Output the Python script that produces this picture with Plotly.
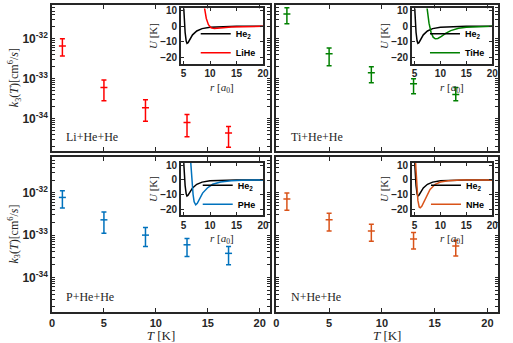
import plotly.graph_objects as go

# temperatures (K)
T = [1, 5, 9, 13, 17]

# k3 rates (cm^6/s): centre, upper end and lower end of the error bars
li_k3 = [6.6e-33, 6.0e-34, 1.86e-34, 7.9e-35, 4.3e-35]
li_hi = [1.0e-32, 9.3e-34, 2.95e-34, 1.26e-34, 6.3e-35]
li_lo = [3.7e-33, 2.8e-34, 8.5e-35, 3.5e-35, 1.9e-35]

ti_k3 = [4.2e-32, 4.2e-33, 1.41e-33, 7.4e-34, 4.0e-34]
ti_hi = [6.0e-32, 5.9e-33, 2.0e-33, 1.0e-33, 6.0e-34]
ti_lo = [2.4e-32, 2.1e-33, 7.9e-34, 4.2e-34, 2.8e-34]

p_k3 = [7.8e-33, 2.3e-33, 1.0e-33, 5.9e-34, 3.7e-34]
p_hi = [1.12e-32, 3.55e-33, 1.51e-33, 8.3e-34, 5.4e-34]
p_lo = [4.4e-33, 1.1e-33, 5.4e-34, 3.1e-34, 2.0e-34]

n_k3 = [7.2e-33, 2.3e-33, 1.26e-33, 8.1e-34, 5.5e-34]
n_hi = [1.0e-32, 3.3e-33, 1.82e-33, 1.15e-33, 7.6e-34]
n_lo = [3.9e-33, 1.26e-33, 7.2e-34, 4.7e-34, 3.2e-34]

# potential curves U(r) in K, r in bohr
he2_r = [4.9, 5.0, 5.1, 5.3, 5.5, 5.65, 5.85, 6.2, 6.7, 7.5, 8.5, 10, 12, 15, 20]
he2_u = [20, 12, 5, -4, -9.5, -11, -10.5, -8, -5.5, -3, -1.5, -0.6, -0.2, 0, 0]

lihe_r = [8.8, 9.0, 9.3, 9.7, 10.2, 10.8, 11.5, 12.5, 14, 16, 20]
lihe_u = [15, 10, 5, 1, -1, -1.5, -1.4, -1, -0.5, -0.2, 0]

tihe_r = [7.3, 7.5, 7.8, 8.2, 8.6, 9.0, 9.5, 10.2, 11, 12, 13.5, 15, 17, 20]
tihe_u = [15, 8, 2, -4, -7, -8, -7.8, -6.5, -4.5, -2.8, -1.3, -0.6, -0.2, 0]

phe_r = [6.3, 6.45, 6.6, 6.8, 7.0, 7.3, 7.6, 8.0, 8.6, 9.5, 10.5, 12, 14, 16, 20]
phe_u = [15, 5, -3, -10, -15, -17, -16, -13, -9, -5.5, -3, -1.4, -0.5, -0.2, 0]

nhe_r = [5.15, 5.3, 5.45, 5.65, 5.9, 6.1, 6.4, 6.8, 7.3, 8.0, 9, 10, 11.5, 14, 20]
nhe_u = [15, 5, -5, -14, -18.5, -19, -18, -15, -11, -6.5, -3, -1.4, -0.5, -0.1, 0]

panels = [
    ("Li+He+He", "LiHe", "#FF0000", li_k3, li_hi, li_lo, lihe_r, lihe_u),
    ("Ti+He+He", "TiHe", "#008000", ti_k3, ti_hi, ti_lo, tihe_r, tihe_u),
    ("P+He+He", "PHe", "#0072BD", p_k3, p_hi, p_lo, phe_r, phe_u),
    ("N+He+He", "NHe", "#D95319", n_k3, n_hi, n_lo, nhe_r, nhe_u),
]

# log-axis ticks 1..9 in every decade, labelled only at the decades
decades = [-35, -34, -33, -32]
y_ticks = [d * 10.0 ** e for e in decades for d in range(1, 10)]
y_text = [("10<sup>%d</sup>" % e if d == 1 and e > -35 else "") for e in decades for d in range(1, 10)]

AX = "#262626"
SANS = "Liberation Sans"
SERIF = "Liberation Serif"

main_x = [[0, 0.489], [0.503, 1.0], [0, 0.489], [0.503, 1.0]]
main_y = [[0.524, 1.0], [0.524, 1.0], [0, 0.505], [0, 0.505]]
ins_x = [[0.289, 0.473], [0.807, 0.987], [0.289, 0.473], [0.807, 0.987]]
ins_y = [[0.809, 0.989], [0.809, 0.989], [0.316, 0.485], [0.316, 0.485]]

fig = go.Figure()
layout = {}

for i, (label, name, col, k3, hi, lo, r, u) in enumerate(panels):
    n = i + 1
    sx = "" if n == 1 else str(n)
    m = n + 4
    lg = "legend" if n == 1 else "legend%d" % n

    fig.add_trace(go.Scatter(
        x=T, y=k3, mode="markers", showlegend=False,
        xaxis="x" + sx, yaxis="y" + sx,
        marker=dict(symbol="line-ew-open", size=5, color=col, line=dict(color=col, width=1.5)),
        error_y=dict(type="data", symmetric=False,
                     array=[h - c for h, c in zip(hi, k3)],
                     arrayminus=[c - l for c, l in zip(k3, lo)],
                     color=col, thickness=1.5, width=2.5),
    ))

    fig.add_trace(go.Scatter(x=he2_r, y=he2_u, mode="lines", name="He<sub>2</sub>",
                             line=dict(color="black", width=1.5),
                             xaxis="x%d" % m, yaxis="y%d" % m, legend=lg))
    fig.add_trace(go.Scatter(x=r, y=u, mode="lines", name=name,
                             line=dict(color=col, width=1.5),
                             xaxis="x%d" % m, yaxis="y%d" % m, legend=lg))

    bottom = n > 2
    left = n % 2 == 1
    layout["xaxis" + sx] = dict(
        domain=main_x[i], anchor="y" + sx, range=[0, 21], automargin=False,
        tickvals=[0, 5, 10, 15, 20], ticks="inside", ticklen=4,
        showline=True, mirror="ticks", linecolor=AX, linewidth=1.5, tickcolor=AX,
        showgrid=False, zeroline=False, showticklabels=bottom,
        tickfont=dict(family=SANS, size=11, color=AX, weight="bold"),
        title=dict(text="<i>T</i> [K]" if bottom else "", standoff=0,
                   font=dict(family=SERIF, size=13, color=AX)),
    )
    layout["yaxis" + sx] = dict(
        domain=main_y[i], anchor="x" + sx, type="log", range=[-34.82, -31.15],
        automargin=False,
        tickvals=y_ticks, ticktext=y_text, ticks="inside", ticklen=3, tickwidth=1,
        showline=True, mirror="ticks", linecolor=AX, linewidth=1.5, tickcolor=AX,
        showgrid=False, zeroline=False, showticklabels=left,
        tickfont=dict(family=SANS, size=12, color=AX, weight="bold"),
    )
    layout["xaxis%d" % m] = dict(
        domain=ins_x[i], anchor="y%d" % m, range=[4.5, 20], automargin=False,
        tickvals=[5, 10, 15, 20], ticks="inside", ticklen=3,
        showline=True, mirror="ticks", linecolor=AX, linewidth=1.5, tickcolor=AX,
        showgrid=False, zeroline=False,
        tickfont=dict(family=SANS, size=10, color=AX, weight="bold"),
    )
    layout["yaxis%d" % m] = dict(
        domain=ins_y[i], anchor="x%d" % m, range=[-24, 11.5], automargin=False,
        tickvals=[-20, -10, 0, 10], ticks="inside", ticklen=3,
        showline=True, mirror="ticks", linecolor=AX, linewidth=1.5, tickcolor=AX,
        showgrid=False, zeroline=False,
        tickfont=dict(family=SANS, size=10, color=AX, weight="bold"),
        title=dict(text="<i>U</i> [K]", standoff=0,
                   font=dict(family=SERIF, size=11, color=AX)),
    )
    layout[lg] = dict(
        x=ins_x[i][1] - 0.005, y=ins_y[i][0] - 0.012, xanchor="right", yanchor="bottom",
        bgcolor="rgba(0,0,0,0)", borderwidth=0, itemwidth=30, tracegroupgap=0,
        font=dict(family=SANS, size=9, color="black", weight="bold"),
    )

    # panel label
    fig.add_annotation(text=label, x=1.2, y=-34.47, xref="x" + sx, yref="y" + sx,
                       xanchor="left", yanchor="middle", showarrow=False,
                       font=dict(family=SERIF, size=12, color=AX))
    # inset x title, tucked close under the tick labels
    fig.add_annotation(text="<i>r</i> [<i>a</i><sub>0</sub>]", x=0.5, y=0,
                       xref="x%d domain" % m, yref="y%d domain" % m,
                       xanchor="center", yanchor="top", yshift=-15, showarrow=False,
                       font=dict(family=SERIF, size=11, color=AX))
    # main y title, placed beside the tick labels
    if left:
        fig.add_annotation(text="<i>k</i><sub>3</sub>(<i>T</i>)[cm<sup>6</sup>/<i>s</i>]",
                           x=-0.085, y=sum(main_y[i]) / 2, xref="paper", yref="paper",
                           xanchor="center", yanchor="middle", textangle=-90,
                           showarrow=False, font=dict(family=SERIF, size=12, color=AX))

fig.update_layout(
    width=513, height=343,
    margin=dict(l=52, r=15, t=5, b=31),
    paper_bgcolor="white", plot_bgcolor="white",
    **layout,
)

# drop the browser's default page margin so the figure sits at (0, 0)
fig.write_html("out.html", config={"displayModeBar": False},
               post_script="document.body.style.margin = '0px';")
